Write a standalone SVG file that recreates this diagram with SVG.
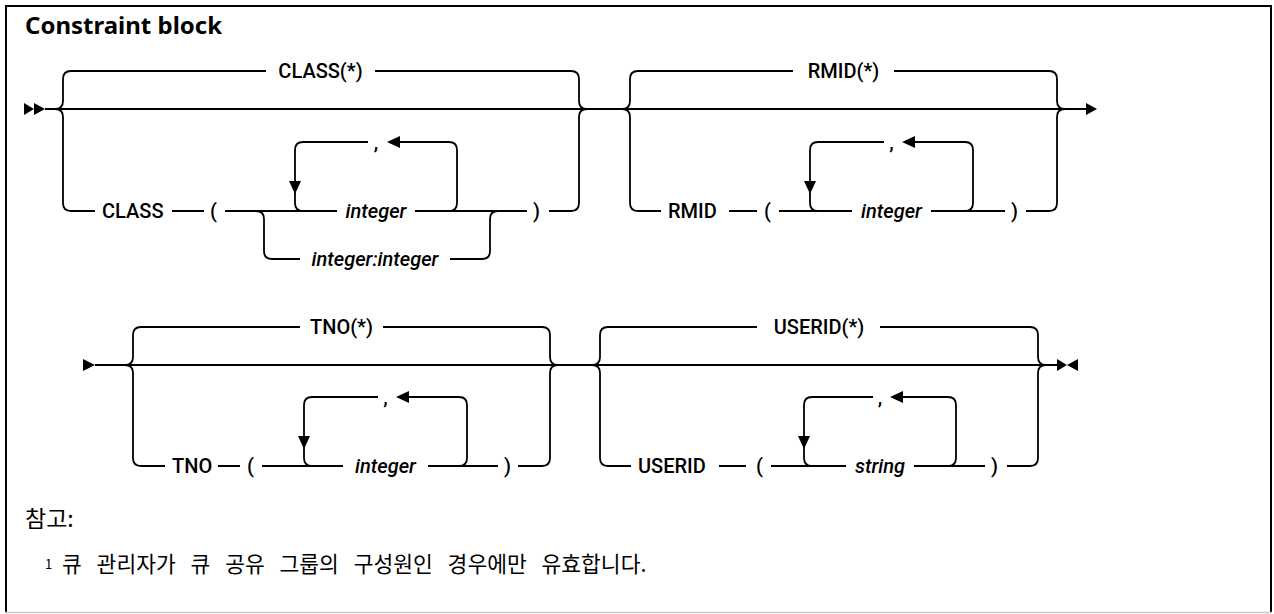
<svg xmlns="http://www.w3.org/2000/svg" width="1274" height="614" viewBox="0 0 1274 614">
<style>
.l{fill:none;stroke:#000;stroke-width:1.8}
.a{fill:#000}
.t{font-family:Roboto,"Liberation Sans",sans-serif;font-size:20px;font-weight:500;fill:#000}
.i{font-style:italic}
.m{text-anchor:middle}
.title{font-family:"Noto Sans","Liberation Sans",sans-serif;font-size:24px;font-weight:700;fill:#000}
.k{font-family:"Noto Sans CJK KR","Noto Sans",sans-serif;fill:#000}
</style>
<rect x="0" y="0" width="1274" height="614" fill="#fff"/>
<g id="frame">
<path d="M6,613 V6 H1271 V613" fill="none" stroke="#000" stroke-width="2"/>
<path d="M5,612.5 H1272" fill="none" stroke="#c8c8c8" stroke-width="1.5"/>
<text class="title" x="25" y="34">Constraint block</text>
</g>
<g id="connectors">
<!-- row 1 main -->
<path class="l" d="M45,109 H1086"/>
<polygon class="a" points="24,103 34,109 24,115"/>
<polygon class="a" points="34,103 45,109 34,115"/>
<polygon class="a" points="1086,103 1097,109 1086,115"/>
<!-- CLASS group -->
<path class="l" d="M55,109 Q63,109 63,101 V79 Q63,71 71,71 H266 M375,71 H571 Q579,71 579,79 V101 Q579,109 587,109"/>
<path class="l" d="M55,109 Q63,109 63,117 V203 Q63,211 71,211 H95 M172,211 H204 M225,211 H337 M415,211 H527 M549,211 H571 Q579,211 579,203 V117 Q579,109 587,109"/>
<path class="l" d="M256,211 Q264,211 264,219 V251 Q264,259 272,259 H300 M450,259 H482 Q490,259 490,251 V219 Q490,211 498,211"/>
<path class="l" d="M368,142 H303 Q295,142 295,150 V203 Q295,211 303,211 M449,211 Q457,211 457,203 V150 Q457,142 449,142 H400"/>
<polygon class="a" points="289,181 301,181 295,194"/>
<polygon class="a" points="400,136 400,148 387,142"/>
<!-- RMID group -->
<path class="l" d="M622,109 Q630,109 630,101 V79 Q630,71 638,71 H793 M894,71 H1049 Q1057,71 1057,79 V101 Q1057,109 1065,109"/>
<path class="l" d="M622,109 Q630,109 630,117 V203 Q630,211 638,211 H661 M729,211 H757 M779,211 H852 M931,211 H1005 M1026,211 H1049 Q1057,211 1057,203 V117 Q1057,109 1065,109"/>
<path class="l" d="M884,142 H818 Q810,142 810,150 V203 Q810,211 818,211 M965,211 Q973,211 973,203 V150 Q973,142 965,142 H915"/>
<polygon class="a" points="804,181 816,181 810,194"/>
<polygon class="a" points="915,136 915,148 902,142"/>
<!-- row 2 main -->
<path class="l" d="M95,365 H1057"/>
<polygon class="a" points="83,359 95,365 83,371"/>
<polygon class="a" points="1057,359 1067,365 1057,371"/>
<polygon class="a" points="1078,359 1067,365 1078,371"/>
<!-- TNO group -->
<path class="l" d="M125,365 Q133,365 133,357 V335 Q133,327 141,327 H300 M383,327 H542 Q550,327 550,335 V357 Q550,365 558,365"/>
<path class="l" d="M125,365 Q133,365 133,373 V458 Q133,466 141,466 H165 M218,466 H240 M262,466 H343 M428,466 H498 M518,466 H542 Q550,466 550,458 V373 Q550,365 558,365"/>
<path class="l" d="M378,397 H312 Q304,397 304,405 V458 Q304,466 312,466 M459,466 Q467,466 467,458 V405 Q467,397 459,397 H409"/>
<polygon class="a" points="298,436 310,436 304,449"/>
<polygon class="a" points="409,391 409,403 396,397"/>
<!-- USERID group -->
<path class="l" d="M592,365 Q600,365 600,357 V335 Q600,327 608,327 H757 M880,327 H1030 Q1038,327 1038,335 V357 Q1038,365 1046,365"/>
<path class="l" d="M592,365 Q600,365 600,373 V458 Q600,466 608,466 H631 M719,466 H746 M771,466 H846 M914,466 H985 M1007,466 H1030 Q1038,466 1038,458 V373 Q1038,365 1046,365"/>
<path class="l" d="M873,397 H812 Q804,397 804,405 V458 Q804,466 812,466 M948,466 Q956,466 956,458 V405 Q956,397 948,397 H903"/>
<polygon class="a" points="798,436 810,436 804,449"/>
<polygon class="a" points="903,391 903,403 890,397"/>
</g>
<g id="class">
<text class="t m" x="320.5" y="78">CLASS(*)</text>
<text class="t" x="102" y="218">CLASS</text>
<text class="t" x="210" y="218">(</text>
<text class="t i m" x="376" y="218">integer</text>
<text class="t i m" x="375" y="266">integer:integer</text>
<text class="t m" x="376" y="149">,</text>
<text class="t" x="533" y="218">)</text>
</g>
<g id="rmid">
<text class="t m" x="843.5" y="78">RMID(*)</text>
<text class="t" x="668" y="218">RMID</text>
<text class="t" x="764" y="218">(</text>
<text class="t i m" x="891.5" y="218">integer</text>
<text class="t m" x="891.5" y="149">,</text>
<text class="t" x="1011" y="218">)</text>
</g>
<g id="tno">
<text class="t m" x="341.5" y="334">TNO(*)</text>
<text class="t" x="172" y="473">TNO</text>
<text class="t" x="247" y="473">(</text>
<text class="t i m" x="385.5" y="473">integer</text>
<text class="t m" x="385.5" y="404">,</text>
<text class="t" x="504" y="473">)</text>
</g>
<g id="userid">
<text class="t m" x="819" y="334">USERID(*)</text>
<text class="t" x="638" y="473">USERID</text>
<text class="t" x="756" y="473">(</text>
<text class="t i m" x="880" y="473">string</text>
<text class="t m" x="880" y="404">,</text>
<text class="t" x="991" y="473">)</text>
</g>
<g id="notes">
<text class="k" x="25" y="527" font-size="23">참고:</text>
<text class="k" x="45" y="569" font-size="13">1</text>
<text class="k" x="62" y="572" font-size="21.5" word-spacing="10">큐 관리자가 큐 공유 그룹의 구성원인 경우에만 유효합니다.</text>
</g>
</svg>
